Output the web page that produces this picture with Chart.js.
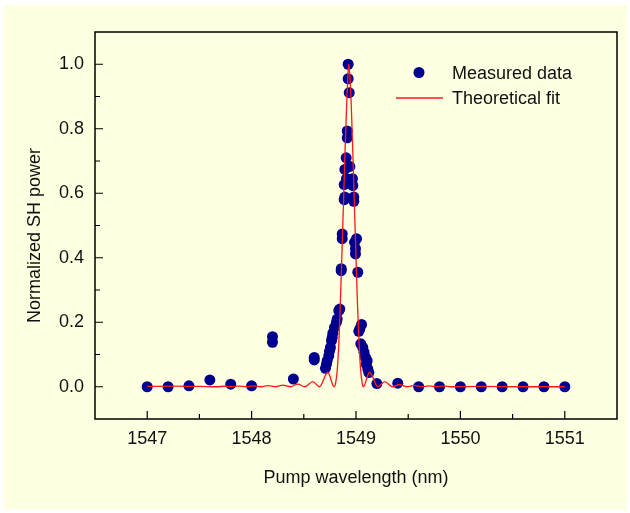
<!DOCTYPE html>
<html><head><meta charset="utf-8">
<script src="https://cdn.jsdelivr.net/npm/chart.js@4.4.1/dist/chart.umd.min.js"></script>
<style>html,body{margin:0;padding:0;background:#fff;}canvas{display:block;}</style>
</head><body>
<canvas id="c" width="630" height="513"></canvas>
<script>
// ---- data ----
const measuredX = [1547.00,1547.20,1547.40,1547.60,1547.80,1548.00,1548.20,1548.20,1548.40,1548.60,1548.60,
  1548.707,1548.717,1548.724,1548.739,1548.746,1548.755,1548.765,1548.772,1548.778,1548.794,1548.813,1548.820,
  1548.835,1548.845,1548.858,1548.859,1548.868,1548.868,1548.887,1548.893,1548.887,1548.909,1548.893,1548.941,
  1548.906,1548.916,1548.916,1548.935,1548.925,1548.925,1548.966,1548.969,1548.979,1548.979,1548.986,1549.005,
  1548.995,1548.995,1549.017,1549.053,1549.036,1549.027,1549.046,1549.065,1549.077,1549.091,1549.107,1549.098,
  1549.113,1549.123,1549.20,1549.40,1549.60,1549.80,1550.00,1550.20,1550.40,1550.60,1550.80,1551.00];
const measuredY = [0.000,0.000,0.003,0.021,0.008,0.003,0.155,0.138,0.024,0.091,0.083,
  0.057,0.070,0.081,0.096,0.110,0.122,0.143,0.153,0.166,0.184,0.200,0.210,
  0.236,0.241,0.360,0.366,0.459,0.474,0.580,0.588,0.627,0.645,0.674,0.683,
  0.710,0.772,0.793,0.912,0.955,1.000,0.645,0.624,0.588,0.575,0.448,0.459,
  0.428,0.412,0.355,0.193,0.179,0.172,0.133,0.122,0.107,0.091,0.081,0.070,
  0.055,0.044,0.010,0.011,0.000,0.000,0.000,0.000,0.000,0.000,0.000,0.000];
const fitX = [1547.00,1547.25,1547.50,1547.67,1547.74,1547.81,1547.88,1547.95,1548.02,1548.09,1548.16,1548.23,
  1548.30,1548.37,1548.445,1548.51,1548.585,1548.65,1548.73,1548.79,1548.805,1548.82,1548.835,1548.85,1548.865,
  1548.88,1548.895,1548.91,1548.92,1548.93,1548.94,1548.955,1548.97,1548.985,1549.00,1549.015,1549.03,1549.045,
  1549.06,1549.07,1549.13,1549.21,1549.275,1549.35,1549.415,1549.49,1549.56,1549.63,1549.70,1549.77,1549.84,
  1549.91,1550.2,1550.6,1551.0];
const fitY = [0.001,0.002,0.001,0.000,0.0015,0.000,0.002,0.000,0.0025,0.000,0.0035,0.000,
  0.005,0.000,0.008,0.000,0.016,0.000,0.045,0.000,0.012,0.05,0.13,0.26,0.41,
  0.57,0.73,0.87,0.95,1.00,0.97,0.87,0.72,0.56,0.40,0.25,0.13,0.05,
  0.01,0.000,0.045,0.000,0.016,0.000,0.007,0.000,0.004,0.000,0.003,0.000,0.002,
  0.000,0.001,0.000,0.000];
const xTickValues = [1547,1548,1549,1550,1551];
const xTickLabels = ['1547','1548','1549','1550','1551'];
const yTickValues = [0,0.2,0.4,0.6,0.8,1.0];
const yTickLabels = ['0.0','0.2','0.4','0.6','0.8','1.0'];
const xMinorTicks = [1547.5,1548.5,1549.5,1550.5];
const yMinorTicks = [0.1,0.3,0.5,0.7,0.9];
const seriesLabels = ['Measured data','Theoretical fit'];
const xTitle = 'Pump wavelength (nm)';
const yTitle = 'Normalized SH power';

const FAMILY = '"Liberation Sans", Arial, sans-serif';
const TEXT = '#111';
const DOT = '#000090';
const RED = '#ff1a1a';

const decor = {
  id: 'decor',
  beforeDraw(chart) {
    const ctx = chart.ctx;
    ctx.save();
    ctx.fillStyle = '#ffffe1';
    ctx.fillRect(4, 5, 623, 505);
    ctx.restore();
  },
  afterDraw(chart) {
    const {ctx, chartArea: a, scales: {x, y}} = chart;
    ctx.save();
    ctx.strokeStyle = '#000';
    ctx.lineWidth = 1.5;
    ctx.strokeRect(a.left, a.top, a.right - a.left, a.bottom - a.top);
    ctx.lineWidth = 1.2;
    ctx.beginPath();
    xTickValues.forEach(v => { const p = x.getPixelForValue(v); ctx.moveTo(p, a.bottom); ctx.lineTo(p, a.bottom - 8); });
    xMinorTicks.forEach(v => { const p = x.getPixelForValue(v); ctx.moveTo(p, a.bottom); ctx.lineTo(p, a.bottom - 5); });
    yTickValues.forEach(v => { const p = y.getPixelForValue(v); ctx.moveTo(a.left, p); ctx.lineTo(a.left + 8, p); });
    yMinorTicks.forEach(v => { const p = y.getPixelForValue(v); ctx.moveTo(a.left, p); ctx.lineTo(a.left + 5, p); });
    ctx.stroke();

    // axis titles
    ctx.fillStyle = TEXT;
    ctx.font = '18px ' + FAMILY;
    ctx.textAlign = 'center';
    ctx.textBaseline = 'alphabetic';
    ctx.fillText(xTitle, (a.left + a.right) / 2, a.bottom + 64);
    ctx.save();
    ctx.translate(a.left - 55, (a.top + a.bottom) / 2 + 10);
    ctx.rotate(-Math.PI / 2);
    ctx.fillText(yTitle, 0, 0);
    ctx.restore();

    // legend
    const ds = chart.data.datasets;
    const lx = a.right - 165;
    ctx.textAlign = 'left';
    ctx.fillStyle = ds[0].pointBackgroundColor;
    ctx.beginPath();
    ctx.arc(a.right - 198, a.top + 40.5, 5.5, 0, Math.PI * 2);
    ctx.fill();
    ctx.fillStyle = TEXT;
    ctx.fillText(ds[0].label, lx, a.top + 46.5);
    ctx.strokeStyle = ds[1].borderColor;
    ctx.lineWidth = 1.5;
    ctx.beginPath();
    ctx.moveTo(a.right - 221, a.top + 66);
    ctx.lineTo(a.right - 174, a.top + 66);
    ctx.stroke();
    ctx.fillText(ds[1].label, lx, a.top + 72);
    ctx.restore();
  }
};

new Chart(document.getElementById('c'), {
  type: 'scatter',
  data: {
    datasets: [
      {
        label: seriesLabels[0],
        data: measuredX.map((v, i) => ({x: v, y: measuredY[i]})),
        pointRadius: 5.5,
        pointBackgroundColor: DOT,
        backgroundColor: DOT,
        pointBorderWidth: 0,
        borderWidth: 0,
        order: 1
      },
      {
        type: 'line',
        label: seriesLabels[1],
        data: fitX.map((v, i) => ({x: v, y: fitY[i]})),
        borderColor: RED,
        borderWidth: 1.3,
        pointRadius: 0,
        fill: false,
        cubicInterpolationMode: 'monotone',
        order: 0
      }
    ]
  },
  options: {
    responsive: false,
    animation: false,
    events: [],
    layout: {padding: {left: 0, right: 13, top: 32, bottom: 0}},
    plugins: {legend: {display: false}, tooltip: {enabled: false}},
    scales: {
      x: {
        type: 'linear', min: 1546.5, max: 1551.5,
        grid: {display: false, drawTicks: false},
        border: {display: false},
        afterBuildTicks: s => { s.ticks = xTickValues.map(v => ({value: v})); },
        afterFit: s => { s.height = 94; },
        ticks: {
          font: {family: FAMILY, size: 18}, color: TEXT, padding: 9,
          maxRotation: 0, autoSkip: false,
          callback: (v, i) => xTickLabels[i]
        }
      },
      y: {
        type: 'linear', min: -0.1, max: 1.1,
        grid: {display: false, drawTicks: false},
        border: {display: false},
        afterBuildTicks: s => { s.ticks = yTickValues.map(v => ({value: v})); },
        afterFit: s => { s.width = 95; },
        ticks: {
          font: {family: FAMILY, size: 18}, color: TEXT, padding: 11,
          autoSkip: false,
          callback: (v, i) => yTickLabels[i]
        }
      }
    }
  },
  plugins: [decor]
});
</script>
</body></html>
